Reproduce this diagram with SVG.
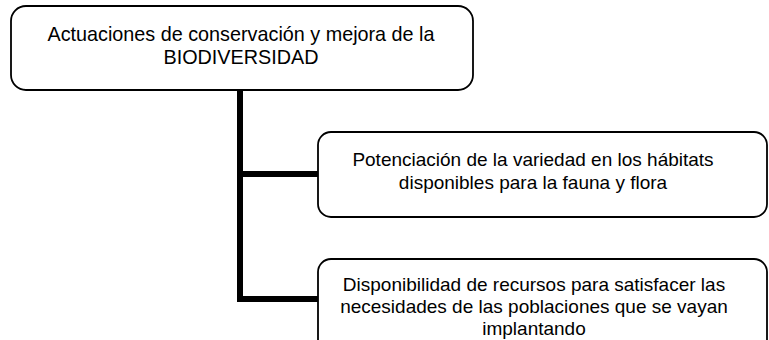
<svg xmlns="http://www.w3.org/2000/svg" width="769" height="340" viewBox="0 0 769 340">
<style>
.box{fill:#fff;stroke:#000;stroke-width:1.8}
.t{font-family:"Liberation Sans",Arial,sans-serif;font-size:19px;fill:#000;text-anchor:middle}
.big{font-size:19.8px}
.c{stroke:#000;stroke-width:6;fill:none}
</style>
<rect width="769" height="340" fill="#fff"/>
<g id="connectors">
<path class="c" d="M240 90 V302 M240 174 H318 M237 299 H318"/>
</g>
<g id="n1">
<rect class="box" x="11" y="6" width="462" height="84" rx="15"/>
<text class="t big" x="241" y="41">Actuaciones de conservación y mejora de la</text>
<text class="t big" x="241" y="64">BIODIVERSIDAD</text>
</g>
<g id="n2">
<rect class="box" x="318" y="132" width="449" height="85" rx="13"/>
<text class="t" x="533" y="166">Potenciación de la variedad en los hábitats</text>
<text class="t" x="533" y="189">disponibles para la fauna y flora</text>
</g>
<g id="n3">
<rect class="box" x="318" y="259" width="449" height="100" rx="13"/>
<text class="t" x="534" y="291">Disponibilidad de recursos para satisfacer las</text>
<text class="t" x="534" y="313">necesidades de las poblaciones que se vayan</text>
<text class="t" x="534" y="335">implantando</text>
</g>
</svg>
